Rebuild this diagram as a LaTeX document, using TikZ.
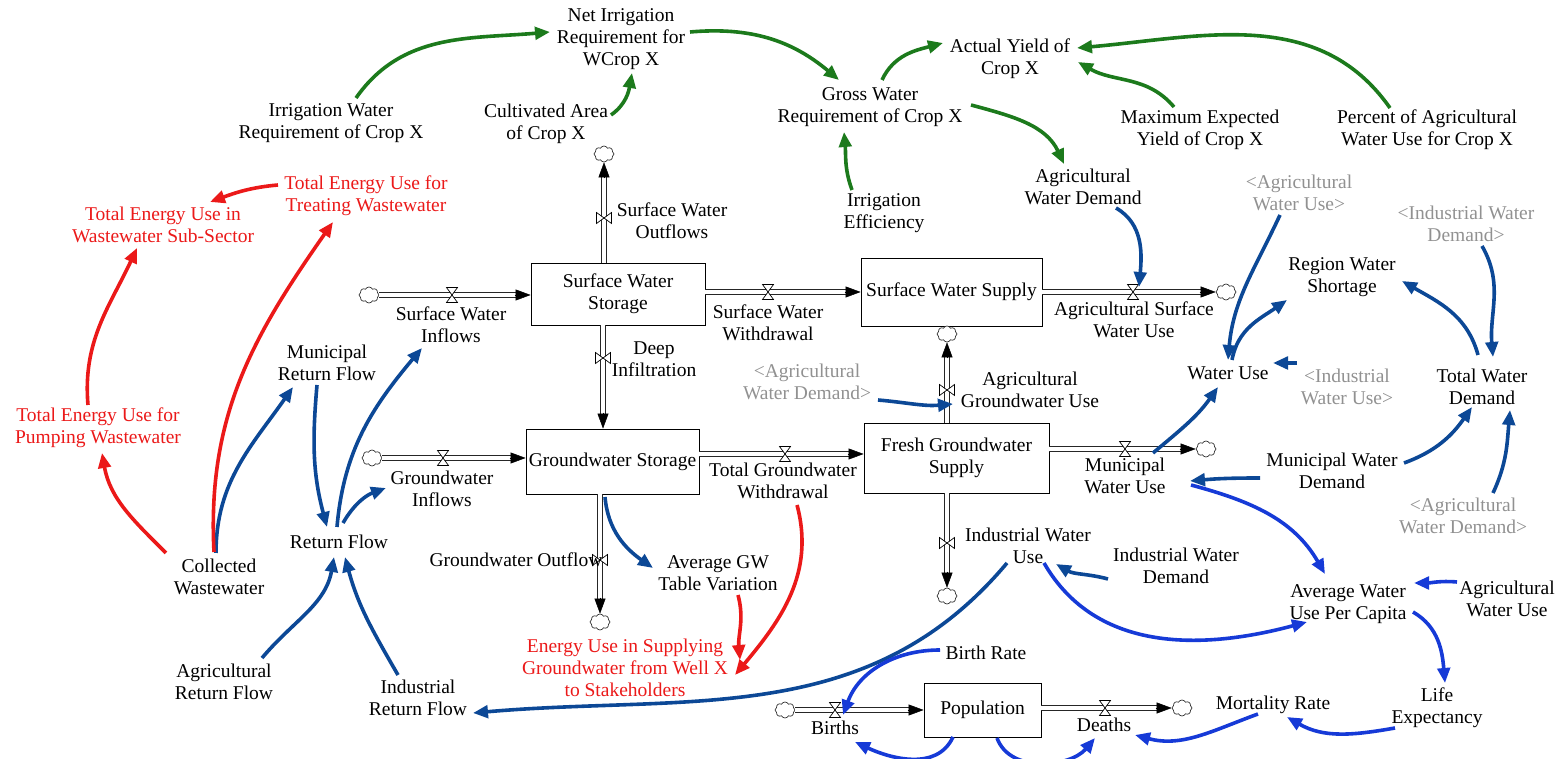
\documentclass[tikz,border=0pt]{standalone}
\usepackage{fontspec}
\setmainfont{Liberation Serif}
\newfontfamily\diafont{Liberation Serif}
\usetikzlibrary{arrows.meta,calc,shapes.symbols}
\definecolor{gr}{RGB}{28,122,28}
\definecolor{nv}{RGB}{12,72,150}
\definecolor{rb}{RGB}{22,58,215}
\definecolor{rd}{RGB}{235,25,25}
\definecolor{gy}{RGB}{145,145,145}
\newcommand{\flowpipe}[2]{%
  \draw[pipeout] (#1) -- ($(#2)!12pt!(#1)$);
  \draw[pipein] (#1) -- ($(#2)!12pt!(#1)$);
  \draw[ftip] ($(#2)!16pt!(#1)$) -- (#2);}
\begin{document}
\begin{tikzpicture}[x=1pt,y=1pt,
  every node/.style={font=\diafont\fontsize{19.5}{22}\selectfont},
  lbl/.style={align=center, inner sep=1pt},
  rl/.style={lbl, text=rd},
  gl/.style={lbl, text=gy},
  stock/.style={draw, line width=0.8pt, align=center, inner sep=0pt},
  cl/.style={cloud, cloud puffs=8, cloud puff arc=130, aspect=1.2, draw=black!80, line width=0.7pt, fill=white, minimum width=20pt, minimum height=16pt, inner sep=0pt},
  pipeout/.style={draw=black!85, line width=5.6pt},
  pipein/.style={draw=white, line width=3.2pt},
  ftip/.style={line width=0.5pt, -{Triangle[length=15pt,width=11pt]}},
  link/.style={line width=3.6pt, -{Triangle[length=15pt,width=12.5pt]}},
  gk/.style={link, draw=gr}, nk/.style={link, draw=nv}, bk/.style={link, draw=rb}, rk/.style={link, draw=rd},
  hvalve/.pic={\draw[line width=0.7pt, fill=white] (-5.5,-7.5) -- (5.5,-7.5) -- (-5.5,7.5) -- (5.5,7.5) -- cycle;},
  vvalve/.pic={\draw[line width=0.7pt, fill=white] (-7.5,-5.5) -- (-7.5,5.5) -- (7.5,-5.5) -- (7.5,5.5) -- cycle;}
]
\useasboundingbox (0,0) rectangle (1557,759);

% stocks
\node[stock, minimum width=174pt, minimum height=62pt] (sws) at (618,465) {Surface Water\\Storage};
\node[stock, minimum width=181pt, minimum height=68pt] (swsup) at (951.5,467) {Surface Water Supply};
\node[stock, minimum width=173pt, minimum height=65pt] (gws) at (612.5,297.5) {Groundwater Storage};
\node[stock, minimum width=185pt, minimum height=70pt] (fgs) at (956.5,301) {Fresh Groundwater\\Supply};
\node[stock, minimum width=117pt, minimum height=54pt] (pop) at (982.5,49) {Population};

% labels
\node[lbl] (nir) at (621,720) {Net Irrigation\\Requirement for\\WCrop X};
\node[lbl] (iwr) at (331,635.5) {Irrigation Water\\Requirement of Crop X};
\node[lbl] (cac) at (546,635.5) {Cultivated Area\\of Crop X};
\node[lbl] (gwr) at (870,651.5) {Gross Water\\Requirement of Crop X};
\node[lbl] (ayc) at (1010,700) {Actual Yield of\\Crop X};
\node[lbl] (mey) at (1200,629.5) {Maximum Expected\\Yield of Crop X};
\node[lbl] (pau) at (1427,629.5) {Percent of Agricultural\\Water Use for Crop X};
\node[lbl] (ie) at (884,545.5) {Irrigation\\Efficiency};
\node[lbl] (awd) at (1083,572) {Agricultural\\Water Demand};
\node[gl] (gawu) at (1299,566.5) {<Agricultural\\Water Use>};
\node[gl] (giwd) at (1466,535) {<Industrial Water\\Demand>};
\node[lbl] (rws) at (1342,481.5) {Region Water\\Shortage};
\node[lbl] (swo) at (672,538) {Surface Water\\Outflows};
\node[lbl] (swi) at (451,434.5) {Surface Water\\Inflows};
\node[lbl] (sww) at (768,436) {Surface Water\\Withdrawal};
\node[lbl] (aswu) at (1134,439) {Agricultural Surface\\Water Use};
\node[lbl] (mrf) at (327,396) {Municipal\\Return Flow};
\node[lbl] (di) at (654,400) {Deep\\Infiltration};
\node[gl] (gawd) at (807,377.5) {<Agricultural\\Water Demand>};
\node[lbl] (agwu) at (1030,369) {Agricultural\\Groundwater Use};
\node[lbl] (wu) at (1228,386) {Water Use};
\node[gl] (giwu) at (1347,372.5) {<Industrial\\Water Use>};
\node[lbl] (twd) at (1482,372.5) {Total Water\\Demand};
\node[rl] (teupw) at (98,331) {Total Energy Use for\\Pumping Wastewater};
\node[rl] (teuw) at (163,534.5) {Total Energy Use in\\Wastewater Sub-Sector};
\node[rl] (teutw) at (366,563) {Total Energy Use for\\Treating Wastewater};
\node[lbl] (gwi) at (442,270) {Groundwater\\Inflows};
\node[lbl] (tgw) at (783,278) {Total Groundwater\\Withdrawal};
\node[lbl] (mwu) at (1125,283) {Municipal\\Water Use};
\node[lbl] (mwd) at (1332,288) {Municipal Water\\Demand};
\node[lbl] (cw) at (219,182.5) {Collected\\Wastewater};
\node[lbl] (rf) at (339,217) {Return Flow};
\node[lbl] (agw) at (718,185.5) {Average GW\\Table Variation};
\node[lbl] (iwu) at (1028,213) {Industrial Water\\Use};
\node[lbl] (iwd) at (1176,193) {Industrial Water\\Demand};
\node[gl] (gawd2) at (1463,243) {<Agricultural\\Water Demand>};
\node[lbl] (awupc) at (1348,155) {Average Water\\Use Per Capita};
\node[lbl] (awu) at (1507,160) {Agricultural\\Water Use};
\node[rl] (eus) at (625,91) {Energy Use in Supplying\\Groundwater from Well X\\to Stakeholders};
\node[lbl] (arf) at (224,77) {Agricultural\\Return Flow};
\node[lbl] (irf) at (418,61) {Industrial\\Return Flow};
\node[lbl] (br) at (986,106) {Birth Rate};
\node[lbl] (births) at (835,31) {Births};
\node[lbl] (deaths) at (1104,34) {Deaths};
\node[lbl] (mr) at (1273,54) {Mortality Rate};
\node[lbl] (le) at (1437,51.5) {Life\\Expectancy};

% clouds
\node[cl] (cswi) at (369,464) {};
\node[cl] (cswo) at (604,605) {};
\node[cl] (caswu) at (1226,467) {};
\node[cl] (cagwu) at (947,425) {};
\node[cl] (cgwi) at (372,301) {};
\node[cl] (cgwo) at (600,137) {};
\node[cl] (cmwu) at (1206,310) {};
\node[cl] (ciwu) at (947,163) {};
\node[cl] (cbir) at (785,49) {};
\node[cl] (cdea) at (1182,51) {};

% valve positions
\coordinate (vswi) at (452,464);
\coordinate (vswo) at (604,541);
\coordinate (vdi) at (603,401);
\coordinate (vsww) at (768,467);
\coordinate (vaswu) at (1133,467);
\coordinate (vagwu) at (947,369);
\coordinate (vgwi) at (443,301);
\coordinate (vgwo) at (600,199);
\coordinate (vtgw) at (785,305);
\coordinate (vmwu) at (1125,310);
\coordinate (viwu) at (947,216);
\coordinate (vbir) at (835,49);
\coordinate (vdea) at (1105,51);

% flows
\flowpipe{cswi.east}{vswi -| sws.west}
\flowpipe{vswo |- sws.north}{cswo.south}
\flowpipe{vdi |- sws.south}{vdi |- gws.north}
\flowpipe{vsww -| sws.east}{vsww -| swsup.west}
\flowpipe{vaswu -| swsup.east}{caswu.west}
\flowpipe{vagwu |- fgs.north}{cagwu.south}
\flowpipe{cgwi.east}{vgwi -| gws.west}
\flowpipe{vgwo |- gws.south}{cgwo.north}
\flowpipe{vtgw -| gws.east}{vtgw -| fgs.west}
\flowpipe{vmwu -| fgs.east}{cmwu.west}
\flowpipe{viwu |- fgs.south}{ciwu.north}
\flowpipe{cbir.east}{vbir -| pop.west}
\flowpipe{vdea -| pop.east}{cdea.west}

\pic at (vswi) {hvalve};
\pic at (vsww) {hvalve};
\pic at (vaswu) {hvalve};
\pic at (vgwi) {hvalve};
\pic at (vtgw) {hvalve};
\pic at (vmwu) {hvalve};
\pic at (vbir) {hvalve};
\pic at (vdea) {hvalve};
\pic at (vswo) {vvalve};
\pic at (vdi) {vvalve};
\pic at (vagwu) {vvalve};
\pic at (vgwo) {vvalve};
\pic at (viwu) {vvalve};

\node[lbl] (gwo) at (516,199) {Groundwater Outflow};

% green links
\draw[gk] ([shift={(25,25.5)}]iwr.center) to[out=55,in=185] ([shift={(-71,7)}]nir.center);
\draw[gk] ([shift={(65,8.5)}]cac.center) to[out=35,in=-100] ([shift={(11,-34)}]nir.center);
\draw[gk] ([shift={(69,7)}]nir.center) to[out=5,in=140] ([shift={(-31,27.5)}]gwr.center);
\draw[gk] ([shift={(12,27.5)}]gwr.center) to[out=65,in=195] ([shift={(-67,16)}]ayc.center);
\draw[gk] ([shift={(-26,22.5)}]mey.center) to[out=130,in=-30] ([shift={(68,-3)}]ayc.center);
\draw[gk] ([shift={(-37,21.5)}]pau.center) to[out=125,in=5] ([shift={(67,11)}]ayc.center);
\draw[gk] ([shift={(-32,23.5)}]ie.center) to[out=110,in=-85] ([shift={(-26,-24.5)}]gwr.center);
\draw[gk] ([shift={(101,2.5)}]gwr.center) to[out=-15,in=115] ([shift={(-19,23)}]awd.center);

% navy links
\draw[nk] ([shift={(33,-21)}]awd.center) to[out=-30,in=85] ([shift={(6,5)}]vaswu);
\draw[nk] ([shift={(-19,-22.5)}]gawu.center) to[out=-115,in=85] ([shift={(0,13)}]wu.center);
\draw[nk] ([shift={(4,13)}]wu.center) to[out=80,in=-145] ([shift={(-55,-22.5)}]rws.center);
\draw[nk] ([shift={(-4,31.5)}]twd.center) to[out=105,in=-30] ([shift={(60,-3.5)}]rws.center);
\draw[nk] ([shift={(16,-22)}]giwd.center) to[out=-60,in=95] ([shift={(11,29.5)}]twd.center);
\draw[nk] ([shift={(-50,23.5)}]giwu.center) -- ([shift={(45,10)}]wu.center);
\draw[nk] ([shift={(28,23)}]mwu.center) to[out=40,in=-125] ([shift={(-10,-14)}]wu.center);
\draw[nk] ([shift={(72,8)}]mwd.center) to[out=20,in=-125] ([shift={(-10,-20.5)}]twd.center);
\draw[nk] ([shift={(30,23)}]gawd2.center) to[out=65,in=-95] ([shift={(28,-23.5)}]twd.center);
\draw[nk] ([shift={(-72,-7)}]mwd.center) to[out=180,in=5] ([shift={(65,-5)}]mwu.center);
\draw[nk] ([shift={(-68,-13)}]iwd.center) to[out=165,in=-30] ([shift={(28,-18)}]iwu.center);
\draw[nk] ([shift={(-21,-17)}]iwu.center) to[out=-130,in=5] ([shift={(55,-15)}]irf.center);
\draw[nk] ([shift={(-20,23)}]irf.center) to[out=120,in=-75] ([shift={(6,-15)}]rf.center);
\draw[nk] ([shift={(38,24)}]arf.center) to[out=50,in=-100] ([shift={(-5,-15)}]rf.center);
\draw[nk] ([shift={(-10,-22)}]mrf.center) to[out=-95,in=105] ([shift={(-12,15)}]rf.center);
\draw[nk] ([shift={(-2,15)}]rf.center) to[out=85,in=-130] ([shift={(-29,-23.5)}]swi.center);
\draw[nk] ([shift={(4,19)}]rf.center) to[out=60,in=200] ([shift={(-56,1)}]gwi.center);
\draw[nk] ([shift={(-3,23.5)}]cw.center) to[out=90,in=-125] ([shift={(-34,-24)}]mrf.center);
\draw[nk] ([shift={(-7.5,-35.5)}]gws.center) to[out=-85,in=145] ([shift={(-65,5.5)}]agw.center);
\draw[nk] ([shift={(71,-18.5)}]gawd.center) to[out=-5,in=185] ([shift={(6,-14)}]vagwu);

% royal blue links
\draw[bk] ([shift={(66,-9)}]mwu.center) to[out=-15,in=120] ([shift={(-23,30)}]awupc.center);
\draw[bk] ([shift={(16,-17)}]iwu.center) to[out=-60,in=195] ([shift={(-41,-18)}]awupc.center);
\draw[bk] ([shift={(-50,17)}]awu.center) to[out=175,in=0] ([shift={(66,21)}]awupc.center);
\draw[bk] ([shift={(65,-8)}]awupc.center) to[out=-30,in=95] ([shift={(8,24.5)}]le.center);
\draw[bk] ([shift={(-42,-20.5)}]le.center) to[out=190,in=-30] ([shift={(14,-12)}]mr.center);
\draw[bk] ([shift={(-15,-9)}]mr.center) to[out=200,in=-15] ([shift={(31,-10)}]deaths.center);
\draw[bk] ([shift={(14.5,-28)}]pop.center) to[out=-70,in=-130] ([shift={(-9,-13)}]deaths.center);
\draw[bk] ([shift={(-29.5,-27)}]pop.center) to[out=-115,in=-25] ([shift={(20,-14)}]births.center);
\draw[bk] ([shift={(-46,3)}]br.center) to[out=180,in=70] ([shift={(8,-5)}]vbir);

% red links
\draw[rk] ([shift={(-5,24.5)}]cw.center) to[out=93,in=-125] ([shift={(-33,-26)}]teutw.center);
\draw[rk] ([shift={(-53,23.5)}]cw.center) to[out=135,in=-80] ([shift={(4,-25)}]teupw.center);
\draw[rk] ([shift={(-10,23)}]teupw.center) to[out=95,in=-115] ([shift={(-26,-23.5)}]teuw.center);
\draw[rk] ([shift={(-88,11)}]teutw.center) to[out=185,in=20] ([shift={(47,22.5)}]teuw.center);
\draw[rk] ([shift={(20,-21.5)}]agw.center) to[out=-75,in=95] ([shift={(115,8)}]eus.center);
\draw[rk] ([shift={(14,-24)}]tgw.center) to[out=-75,in=50] ([shift={(110,-7)}]eus.center);
\end{tikzpicture}
\end{document}
